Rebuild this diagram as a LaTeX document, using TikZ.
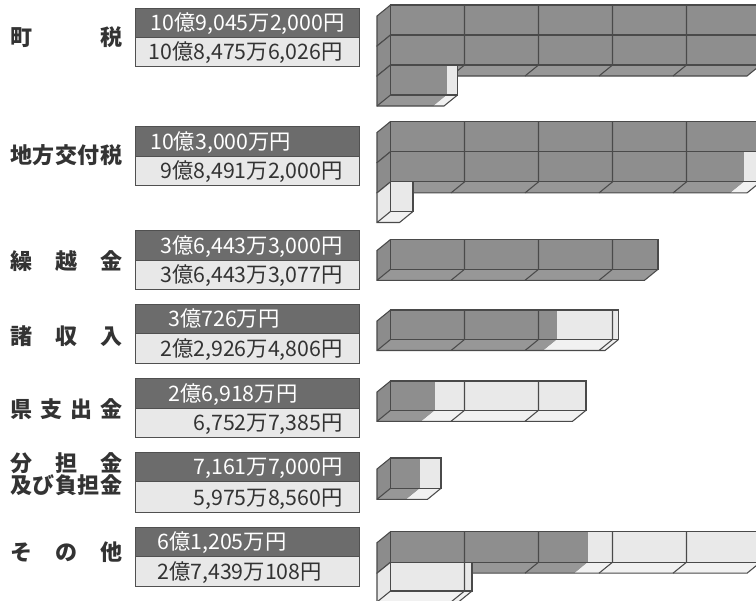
\documentclass[tikz,border=0pt]{standalone}
\usepackage{fontspec}
\newfontfamily\jp{Noto Sans CJK JP}
\definecolor{darkbox}{HTML}{6C6C6C}
\definecolor{lightbox}{HTML}{E8E8E8}
\definecolor{boxedge}{HTML}{505050}
\definecolor{barfront}{HTML}{8E8E8E}
\definecolor{barside}{HTML}{8C8C8C}
\definecolor{barbot}{HTML}{979797}
\definecolor{barlight}{HTML}{E9E9E9}
\definecolor{barlightbot}{HTML}{F1F1F1}
\definecolor{edgecol}{HTML}{4A4A4A}
\definecolor{labtext}{HTML}{333333}
\def\xo{390.5}\def\bw{74}\def\dd{13.5}\def\dy{11}
\tikzset{
  edge/.style={draw=edgecol,line width=0.8pt,line join=miter},
  bedge/.style={draw=boxedge,line width=0.75pt},
  catlab/.style={anchor=west,inner sep=0pt,font=\jp\bfseries\fontsize{16.5pt}{18pt}\selectfont,text=labtext},
  vdark/.style={inner sep=0pt,font=\jp\fontsize{16pt}{17pt}\selectfont,text=white},
  vlight/.style={inner sep=0pt,font=\jp\fontsize{16pt}{17pt}\selectfont,text=labtext}
}
\newcommand\valbox[3]{%
  \fill[darkbox] (135.5,#1) rectangle (359.5,#2);
  \fill[lightbox] (135.5,#2) rectangle (359.5,#3);
  \draw[bedge] (135.5,#1) rectangle (359.5,#3);
  \draw[bedge] (135.5,#2) -- (359.5,#2);
}
\newcommand\barrow[4]{%
  \pgfmathsetmacro\rt{#1}%
  \pgfmathsetmacro\rb{#1+#2}%
  \pgfmathsetmacro\re{#4}%
  \pgfmathsetmacro\rg{max(\xo,min(#3,#4))}%
  \pgfmathtruncatemacro\sg{(#3>\xo) ? 1 : 0}%
  \ifnum\sg=1 \colorlet{sidec}{barside}\else\colorlet{sidec}{barlight}\fi
  \fill[sidec] (\xo,\rt) -- (\xo,\rb) -- (\xo-\dd,\rb+\dy) -- (\xo-\dd,\rt+\dy) -- cycle;
  \fill[barbot] (\xo,\rb) -- (\rg,\rb) -- (\rg-\dd,\rb+\dy) -- (\xo-\dd,\rb+\dy) -- cycle;
  \fill[barlightbot] (\rg,\rb) -- (\re,\rb) -- (\re-\dd,\rb+\dy) -- (\rg-\dd,\rb+\dy) -- cycle;
  \fill[barfront] (\xo,\rt) rectangle (\rg,\rb);
  \fill[barlight] (\rg,\rt) rectangle (\re,\rb);
  \draw[edge] (\xo,\rt) rectangle (\re,\rb);
  \draw[edge] (\xo,\rt) -- (\xo-\dd,\rt+\dy) -- (\xo-\dd,\rb+\dy) -- (\re-\dd,\rb+\dy) -- (\re,\rb);
  \draw[edge] (\xo,\rb) -- (\xo-\dd,\rb+\dy);
  \foreach \k in {1,...,4}{%
    \pgfmathsetmacro\xx{\xo+\k*\bw}%
    \ifdim\xx pt<\re pt
      \draw[edge] (\xx,\rt) -- (\xx,\rb) -- (\xx-\dd,\rb+\dy);
    \fi
  }%
}
\begin{document}
\begin{tikzpicture}[x=0.75pt,y=-0.75pt]
\useasboundingbox (0,0) rectangle (756,600);
\fill[white] (0,0) rectangle (756,600);
\clip (0,0) rectangle (756,600);

% ---------- category labels ----------
\node[catlab] (c1) at (10,37) {\makebox[84pt]{町\hfill 税}};
\node[catlab] (c2) at (10,155.5) {\makebox[84pt]{地\hfill 方\hfill 交\hfill 付\hfill 税}};
\node[catlab] (c3) at (10,261) {\makebox[84pt]{繰\hfill 越\hfill 金}};
\node[catlab] (c4) at (10,336) {\makebox[84pt]{諸\hfill 収\hfill 入}};
\node[catlab] (c5) at (10,409) {\makebox[84pt]{県\hfill 支\hfill 出\hfill 金}};
\node[catlab] (c6a) at (10,463) {\makebox[84pt]{分\hfill 担\hfill 金}};
\node[catlab] (c6b) at (10,485) {\makebox[84pt]{及\hfill び\hfill 負\hfill 担\hfill 金}};
\node[catlab] (c7) at (10,552) {\makebox[84pt]{そ\hfill の\hfill 他}};

% ---------- value boxes ----------
\valbox{8.3}{37.3}{66.7}
\node[vdark,anchor=base east] (v1a) at (345,30.3) {10億9,045万2,000円};
\node[vlight,anchor=base east] (v1b) at (343,59.7) {10億8,475万6,026円};
\valbox{126}{156}{185}
\node[vdark,anchor=base west] (v2a) at (150,149) {10億3,000万円};
\node[vlight,anchor=base east] (v2b) at (343,178) {9億8,491万2,000円};
\valbox{230}{260}{289.3}
\node[vdark,anchor=base east] (v3a) at (343,253) {3億6,443万3,000円};
\node[vlight,anchor=base east] (v3b) at (343,282.3) {3億6,443万3,077円};
\valbox{304}{333.3}{363.3}
\node[vdark,anchor=base west] (v4a) at (168,326.3) {3億726万円};
\node[vlight,anchor=base east] (v4b) at (343,356.3) {2億2,926万4,806円};
\valbox{378.3}{408.3}{437.3}
\node[vdark,anchor=base west] (v5a) at (168,401.3) {2億6,918万円};
\node[vlight,anchor=base east] (v5b) at (343,430.3) {6,752万7,385円};
\valbox{452.7}{481.7}{512.7}
\node[vdark,anchor=base east] (v6a) at (343,474.7) {7,161万7,000円};
\node[vlight,anchor=base east] (v6b) at (343,505.7) {5,975万8,560円};
\valbox{527.7}{556.7}{586.7}
\node[vdark,anchor=base west] (v7a) at (157,549.7) {6億1,205万円};
\node[vlight,anchor=base west] (v7b) at (157,579.7) {2億7,439万108円};

% ---------- bars ----------
\barrow{5}{30}{800}{760.5}
\barrow{35}{30}{800}{760.5}
\barrow{65}{30}{447}{457.5}

\barrow{121.5}{30.2}{800}{760.5}
\barrow{151.7}{30.2}{744}{760.5}
\barrow{181.9}{29.6}{390.5}{413}

\barrow{239.5}{29.8}{800}{658}

\barrow{310}{29.5}{557}{618.5}

\barrow{381}{29.3}{435}{586}

\barrow{458}{30.3}{420}{441}

\barrow{531.7}{30.5}{588}{760.5}
\barrow{562.2}{28.8}{390.5}{472}
\end{tikzpicture}
\end{document}
